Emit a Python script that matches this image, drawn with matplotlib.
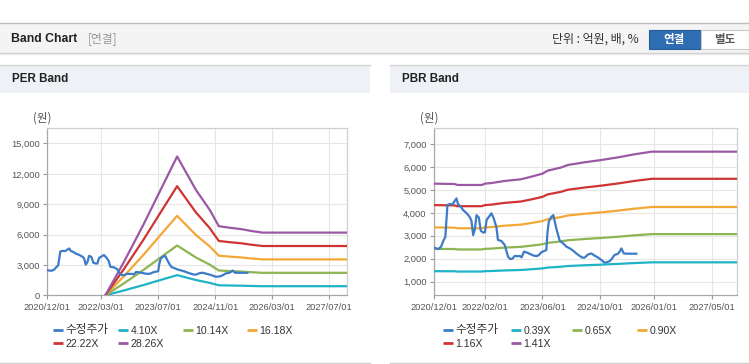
import numpy as np
import pandas as pd
import matplotlib
matplotlib.use('Agg')
import matplotlib.pyplot as plt
import matplotlib.dates as mdates
from matplotlib.patches import Rectangle
from matplotlib.ticker import FuncFormatter

plt.rcParams['font.family'] = ['Liberation Sans', 'Noto Sans CJK KR']

# adjusted share price (수정주가), shared by both panels
price_dates = ['2020-12-01', '2021-01-04', '2021-01-27', '2021-02-15', '2021-03-04',
               '2021-03-22', '2021-04-10', '2021-05-03', '2021-06-06', '2021-06-19',
               '2021-07-12', '2021-08-01', '2021-09-01', '2021-09-28', '2021-10-10',
               '2021-10-25', '2021-11-08', '2021-11-22', '2021-12-12', '2021-12-28',
               '2022-01-18', '2022-02-01', '2022-02-15', '2022-03-07', '2022-03-28',
               '2022-04-16', '2022-05-09', '2022-05-22', '2022-06-20', '2022-07-18',
               '2022-08-15', '2022-09-01', '2022-09-19', '2022-10-10', '2022-11-03',
               '2022-11-22', '2022-12-07', '2022-12-28', '2023-01-26', '2023-02-24',
               '2023-03-22', '2023-04-19', '2023-05-10', '2023-05-22', '2023-06-21',
               '2023-07-04', '2023-07-13', '2023-07-25', '2023-08-16', '2023-09-01',
               '2023-09-13', '2023-10-03', '2023-10-25', '2023-11-22', '2023-12-21',
               '2024-01-18', '2024-02-15', '2024-03-13', '2024-04-11', '2024-05-01',
               '2024-05-22', '2024-06-21', '2024-07-19', '2024-08-16', '2024-09-13',
               '2024-10-12', '2024-11-03', '2024-11-22', '2024-12-21', '2025-01-10',
               '2025-01-28', '2025-02-25', '2025-03-14', '2025-03-28', '2025-04-18',
               '2025-05-22', '2025-08-01']
price_vals = [2480, 2420, 2525, 2770, 2960, 4340, 4385, 4370, 4630, 4385,
              4270, 4120, 3980, 3800, 3660, 3030, 3280, 3900, 3790, 3220,
              3140, 3150, 3690, 3830, 3980, 3760, 3370, 2820, 2770, 2600,
              2090, 1990, 1995, 2120, 2110, 2120, 2060, 2310, 2260, 2190,
              2130, 2120, 2200, 2280, 2350, 2380, 3100, 3620, 3830, 3900,
              3620, 3180, 2790, 2670, 2525, 2450, 2350, 2230, 2120, 2050,
              2050, 2190, 2230, 2130, 2050, 1940, 1840, 1840, 1900, 2020,
              2160, 2210, 2310, 2450, 2230, 2220, 2220]

# PER band
per_dates = ['2022-04-10', '2022-09-15', '2023-03-01', '2023-08-01', '2023-12-12',
             '2024-05-20', '2024-09-15', '2024-12-01', '2025-03-01', '2025-06-15',
             '2025-09-01', '2025-11-20', '2025-12-01', '2027-12-01']
per_labels = ['4.10X', '10.14X', '16.18X', '22.22X', '28.26X']
per_410 = [0, 479, 1016, 1538, 1990, 1512, 1225, 991, 969, 948, 923, 904, 899, 899]
per_1014 = [0, 1184, 2512, 3803, 4920, 3739, 3028, 2451, 2397, 2343, 2282, 2235, 2222, 2222]
per_1618 = [0, 1889, 4008, 6069, 7851, 5965, 4832, 3910, 3824, 3738, 3641, 3567, 3546, 3546]
per_2222 = [0, 2595, 5504, 8335, 10782, 8193, 6636, 5370, 5252, 5134, 5001, 4899, 4870, 4870]
per_2826 = [0, 3300, 7000, 10600, 13713, 10420, 8440, 6830, 6680, 6530, 6360, 6230, 6194, 6194]
per_ticks = ['2020-12-01', '2022-03-01', '2023-07-01', '2024-11-01', '2026-03-01', '2027-07-01']

# PBR band
pbr_dates = ['2020-12-01', '2021-05-20', '2021-06-15', '2022-01-05', '2022-02-01',
             '2022-04-01', '2022-07-15', '2022-12-01', '2023-03-01', '2023-06-01',
             '2023-07-15', '2023-11-01', '2024-01-01', '2024-05-20', '2024-10-10',
             '2025-03-01', '2025-07-15', '2025-12-10', '2027-12-01']
pbr_labels = ['0.39X', '0.65X', '0.90X', '1.16X', '1.41X']
pbr_039 = [1458, 1454, 1442, 1442, 1458, 1466, 1490, 1510, 1543, 1579, 1615, 1651, 1683, 1715, 1743, 1776, 1812, 1844, 1844]
pbr_065 = [2430, 2423, 2404, 2404, 2430, 2444, 2484, 2518, 2571, 2631, 2691, 2752, 2805, 2859, 2906, 2959, 3020, 3073, 3073]
pbr_090 = [3365, 3355, 3328, 3328, 3365, 3384, 3439, 3486, 3560, 3643, 3726, 3810, 3884, 3958, 4023, 4097, 4181, 4255, 4255]
pbr_116 = [4337, 4325, 4290, 4290, 4337, 4361, 4433, 4493, 4588, 4696, 4803, 4911, 5006, 5102, 5186, 5281, 5389, 5484, 5484]
pbr_141 = [5272, 5257, 5214, 5214, 5272, 5301, 5388, 5461, 5577, 5708, 5838, 5969, 6085, 6201, 6303, 6419, 6550, 6666, 6666]
pbr_ticks = ['2020-12-01', '2022-02-01', '2023-06-01', '2024-10-01', '2026-01-01', '2027-05-01']

price_label = '수정주가'
colors = ['#3c7bc8', '#1fb3c6', '#8db551', '#f3a836', '#d03333', '#9b58a4']
KR = ['Noto Sans CJK KR', 'DejaVu Sans']

W, H = 749, 364
fig = plt.figure(figsize=(W / 100, H / 100), dpi=100)

# background layer in pixel coordinates
bg = fig.add_axes([0, 0, 1, 1], zorder=0)
bg.set_xlim(0, W)
bg.set_ylim(H, 0)
bg.axis('off')

bg.add_patch(Rectangle((0, 22.5), W, 30, fc='#f4f4f4', ec='none'))
bg.plot([0, W], [22.5, 22.5], color='#bdbdbd', lw=1)
bg.plot([0, W], [52.8, 52.8], color='#cdcdcd', lw=1)
bg.plot([0, W], [53.8, 53.8], color='#e9e9e9', lw=1)
bg.text(11, 38.5, 'Band Chart', fontsize=8.8, fontweight='bold', color='#222222', va='center')
bg.text(88, 38.5, '[연결]', fontsize=8.5, color='#999999', va='center', family=KR)
bg.text(552, 39.5, '단위 : 억원, 배, %', fontsize=8.6, color='#333333', va='center', family=KR)
bg.add_patch(Rectangle((648.5, 30), 52, 19, fc='#2e6db2', ec='#255d9a', lw=0.8))
bg.add_patch(Rectangle((700.5, 30), 48, 19, fc='white', ec='#c8c8c8', lw=0.8))
bg.text(674.5, 39.5, '연결', fontsize=8.3, fontweight='bold', color='white',
        ha='center', va='center', family=KR)
bg.text(724.5, 39.5, '별도', fontsize=8.3, fontweight='bold', color='#555555',
        ha='center', va='center', family=KR)

for x0, x1, title in [(0, 370, 'PER Band'), (390, W, 'PBR Band')]:
    bg.add_patch(Rectangle((x0, 64.5), x1 - x0, 28.5, fc='#eef1f6', ec='none'))
    bg.plot([x0, x1], [64.5, 64.5], color='#d5d5d5', lw=1)
    bg.plot([x0, x1], [362.5, 362.5], color='#d0d0d0', lw=1)
    bg.text(x0 + 11.5, 79.5, title, fontsize=8.4, fontweight='bold', color='#222222', va='center')


def draw_panel(rect, band_dates, bands, labels, ticks, ylim, yticks, unit_x, legend_x):
    ax = fig.add_axes(rect, zorder=1)
    ax.set_facecolor('white')
    d = pd.to_datetime(band_dates)
    ax.plot(pd.to_datetime(price_dates), price_vals, color=colors[0], lw=1.6, zorder=4)
    for i, vals in enumerate(bands):
        ax.plot(d, vals, color=colors[i + 1], lw=1.6, zorder=3)
    ax.set_xlim(pd.Timestamp('2020-12-01'), pd.Timestamp('2027-12-01'))
    ax.set_ylim(*ylim)
    ax.set_xticks(pd.to_datetime(ticks))
    ax.xaxis.set_major_formatter(mdates.DateFormatter('%Y/%m/%d'))
    ax.set_yticks(yticks)
    ax.yaxis.set_major_formatter(FuncFormatter(lambda v, p: '{:,.0f}'.format(v)))
    ax.grid(True, color='#e6e6e6', lw=0.8)
    ax.set_axisbelow(True)
    ax.tick_params(labelsize=6.7, colors='#999999', labelcolor='#555555', length=3, width=0.8, pad=2.5)
    for s in ['left', 'bottom']:
        ax.spines[s].set_color('#a8a8a8')
    for s in ['top', 'right']:
        ax.spines[s].set_color('#cfcfcf')
    for s in ax.spines.values():
        s.set_linewidth(0.9)
    bg.text(unit_x, 118, '(원)', fontsize=8.3, color='#555555', ha='center', va='center', family=KR)

    # legend
    names = [price_label] + labels
    for i, name in enumerate(names):
        row, col = divmod(i, 4)
        lx = legend_x[col]
        ly = 330 + row * 13.3
        bg.plot([lx, lx + 10], [ly, ly], color=colors[i], lw=2, solid_capstyle='butt')
        if i == 0:
            bg.text(lx + 12.5, ly, name, fontsize=8.4, color='#333333', va='center', family=KR)
        else:
            bg.text(lx + 12.5, ly + 0.5, name, fontsize=7.6, color='#333333', va='center')
    return ax


draw_panel([47.3 / W, 1 - 295.3 / H, 300 / W, 167 / H], per_dates,
           [per_410, per_1014, per_1618, per_2222, per_2826], per_labels, per_ticks,
           (0, 16500), range(0, 15001, 3000), 42, [53, 118, 183, 247])
draw_panel([434.3 / W, 1 - 295.3 / H, 303 / W, 167 / H], pbr_dates,
           [pbr_039, pbr_065, pbr_090, pbr_116, pbr_141], pbr_labels, pbr_ticks,
           (407, 7684), range(1000, 7001, 1000), 429, [443, 511, 572, 637])

fig.savefig('out.png', dpi=100)
